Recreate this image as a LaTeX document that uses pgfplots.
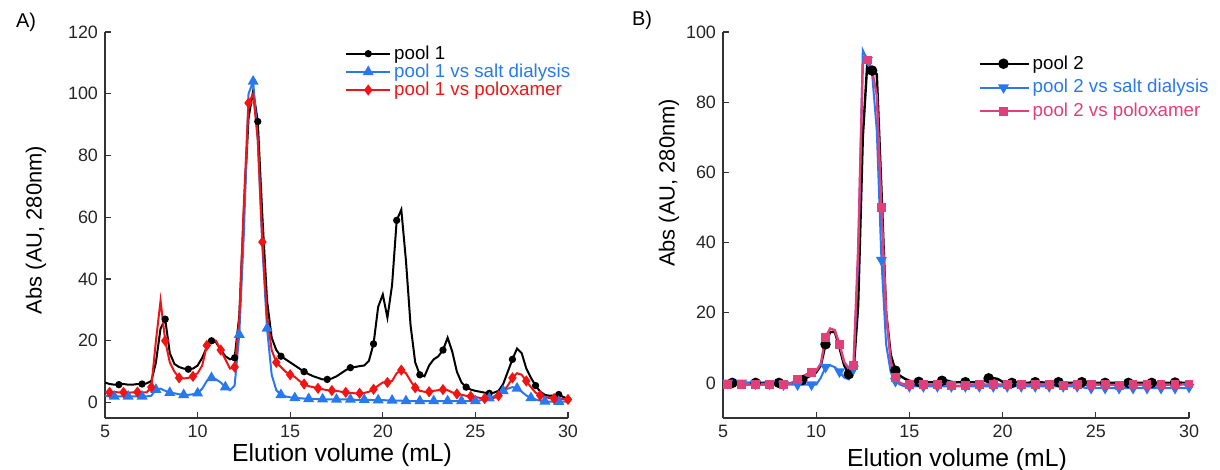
\documentclass[border=0pt]{standalone}
\usepackage{fontspec}
\setmainfont{Liberation Sans}
\usepackage{pgfplots}
\usepackage{pgfplotstable}
\pgfplotsset{compat=1.18}
\definecolor{cblue}{RGB}{40,120,240}
\definecolor{cred}{RGB}{240,20,20}
\definecolor{cpink}{RGB}{224,64,122}
\pgfplotstableread{
x a1 a2 a3 b1 b2 b3
5.00 6.5 2.2 3.5 0 0 -0.5
5.25 6.0 2.0 3.3 0 0 -0.5
5.50 5.8 2.0 3.4 0 0 -0.5
5.75 5.8 2.0 3.3 0 0 -0.5
6.00 6.0 2.0 3.3 0 0 -0.5
6.25 5.8 2.0 3.2 0 0 -0.5
6.50 5.8 2.0 3.3 0 -0.1 -0.5
6.75 6.0 2.0 3.4 0 -0.2 -0.5
7.00 6.0 2.0 3.3 0 -0.2 -0.5
7.25 6.2 2.0 3.3 0 -0.2 -0.5
7.50 7.0 2.2 5.0 0 -0.3 -0.5
7.75 13 4.2 20 0 -0.3 -0.5
8.00 24 4.5 33 0 -0.5 -0.5
8.25 27 3.8 20 -0.3 -0.5 -0.5
8.50 16 3.2 13 -0.2 -0.5 -0.3
8.75 12.5 3.0 10 0 -0.5 0.2
9.00 11.5 2.7 8 0.3 -0.5 1.0
9.25 11 2.5 7.8 0.8 -0.5 1.8
9.50 10.8 2.5 8 1.5 -0.5 2.5
9.75 11 2.7 8.5 2.2 -0.5 3.0
10.00 12 3.0 9.5 3.0 -0.5 3.5
10.25 14.5 4.5 12 5.0 1.5 5.5
10.50 18 7 18.5 11 4.5 13
10.75 20 8 20.5 14.5 5 15.5
11.00 19.5 7.5 20 14.5 4.5 15
11.25 17 6.5 17 10 3.2 11
11.50 15 5 14 5 1.5 6
11.75 14 4 11 2.5 1.0 4
12.00 14.5 5.5 11.5 3 4 5
12.25 28 22 27 22 35 38
12.50 62 55 65 70 94.8 91
12.75 92 100 97 92 92 92
13.00 101 104 100 89 88 89
13.25 91 85 85 88 72 82
13.50 60 50 52 55 35 50
13.75 33 24 28 20 11 20
14.00 21 9 17 8 3 6
14.25 17 4 13 3.5 0.5 1.5
14.50 15 2.5 11.5 2 -0.5 0
14.75 14 2 10 1.2 -1 -0.5
15.00 13 1.7 9 0.6 -1 -0.5
15.25 12 1.5 8.3 0.4 -1 -0.5
15.50 11 1.4 7 0.3 -1 -0.5
15.75 10 1.3 6 0.3 -1 -0.5
16.00 9.2 1.2 5.3 0.2 -1 -0.5
16.25 8.5 1.2 5 0.2 -1 -0.5
16.50 8 1.1 4.6 0.3 -1 -0.5
16.75 7.5 1.1 4.3 0.6 -1 -0.5
17.00 7.5 1.0 4 0.7 -1 -0.6
17.25 7.8 1.0 3.9 0.3 -1 -0.8
17.50 8.5 1.0 3.8 0.2 -1 -0.8
17.75 9.5 1.0 3.5 0.2 -1 -0.8
18.00 10.5 1.0 3.3 0.2 -1 -0.8
18.25 11.3 1.0 3.1 0.2 -1 -0.6
18.50 11.5 0.9 3 0.2 -1 -0.5
18.75 11.8 0.9 3 0.3 -1 -0.5
19.00 12 0.9 3.1 0.5 -1 -0.5
19.25 13.5 0.9 3.5 1.3 -1 -0.5
19.50 19 0.8 4.3 1.4 -1 -0.5
19.75 31 0.8 5.5 1.1 -1 -0.5
20.00 35 0.8 6.5 0.3 -1 -0.5
20.25 27.5 0.7 6.5 -0.3 -1 -0.5
20.50 38 0.7 7 0 -1 -0.5
20.75 59 0.6 9.5 0 -1 -0.5
21.00 62.5 0.6 10.5 0 -1 -0.5
21.25 46 0.5 9.5 0 -1 -0.5
21.50 25 0.5 7 0.1 -1 -0.5
21.75 13 0.5 4.8 0.2 -1 -0.5
22.00 9 0.5 3.8 0.2 -1 -0.5
22.25 8.5 0.5 3.5 0.1 -1 -0.5
22.50 12 0.5 3.5 0 -1 -0.5
22.75 14 0.5 3.8 0 -1 -0.6
23.00 15 0.5 4 0.2 -1 -0.8
23.25 17 0.5 4.2 0.2 -1 -0.8
23.50 21 0.5 4 0 -1 -0.6
23.75 16.5 0.5 3.3 0 -1 -0.5
24.00 10 0.5 2.8 0.1 -1 -0.5
24.25 6.5 0.5 2.5 0.2 -1.2 -0.5
24.50 5 0.5 2.2 0.1 -1.5 -0.5
24.75 4.2 0.5 2 0 -1.5 -0.5
25.00 3.8 0.5 1.8 0 -1.5 -0.5
25.25 3.5 0.7 1.5 0 -1.5 -0.5
25.50 3.2 1.0 1.3 0 -1.5 -0.5
25.75 3 1.4 1.2 0 -1.5 -0.5
26.00 3.2 2.0 1.5 0 -1.5 -0.6
26.25 3.8 2.8 2.2 0 -1.5 -0.8
26.50 6 3.8 3.5 0 -1.5 -0.6
26.75 10 4.5 5.5 0 -1.5 -0.5
27.00 14 5.0 8 0 -1.5 -0.5
27.25 17.5 4.6 9.5 0 -1.5 -0.5
27.50 16 3.5 9 0 -1.5 -0.5
27.75 11 2.3 7 0 -1.5 -0.5
28.00 8 1.5 5 0 -1.5 -0.5
28.25 5.5 1.0 3.2 0 -1.5 -0.5
28.50 3.5 0.6 2.3 0 -1.5 -0.5
28.75 2.5 0.4 1.8 0 -1.5 -0.5
29.00 2.2 0.3 1.5 0 -1.5 -0.5
29.25 2.3 0.3 1.3 0.1 -1.5 -0.5
29.50 2.6 0.3 1.2 0.1 -1.5 -0.5
29.75 1.8 0.3 1.1 0 -1.5 -0.4
30.00 1.2 0.3 1.0 0 -1.2 -0.3
}\chrom
\begin{document}
\begin{tikzpicture}
\useasboundingbox (0,0) rectangle (610bp,235bp);
\pgfplotsset{
  chrom/.style={
    scale only axis,
    axis x line=bottom, axis y line=left,
    axis line style={-, line width=0.7bp, black!80},
    tick style={line width=0.6bp, black!80},
    tick align=inside, major tick length=3bp,
    xmin=5, xmax=30, xtick={5,10,...,30},
    /pgf/number format/assume math mode=true,
    ticklabel style={font=\fontsize{9}{10}\selectfont, text=black!85},
    xlabel={Elution volume (mL)},
    ylabel={Abs (AU, 280nm)},
    legend cell align=left,
    every axis plot/.append style={line width=1bp},
  },
}
\node[font=\fontsize{10}{12}\selectfont] at (13bp,224bp) {A)};
\node[font=\fontsize{10}{12}\selectfont] at (321bp,225bp) {B)};
% ---------------- Panel A
\begin{axis}[chrom, at={(52.5bp,26bp)}, anchor=south west,
  width=231.5bp, height=193bp,
  ymin=-5, ymax=120, ytick={0,20,...,120},
  every axis x label/.style={at={(axis description cs:0.512,-0.096)},anchor=center,font=\fontsize{12.4}{14}\selectfont},
  every axis y label/.style={at={(axis description cs:-0.149,0.487)},rotate=90,anchor=center,font=\fontsize{11}{13}\selectfont},
  legend style={draw=none, fill=none, at={(axis description cs:0.518,0.974)}, anchor=north west,
    font=\fontsize{9.4}{10}\selectfont, row sep=-2.2bp, inner sep=0pt,
    nodes={inner sep=1.5bp}},
  legend image code/.code={\draw[mark repeat=2,mark phase=2] plot coordinates {(0bp,0bp) (11bp,0bp) (22bp,0bp)};},
]
\addplot[black, mark=*, mark size=1.3bp, mark repeat=5, mark phase=4] table[x=x,y=a1] {\chrom};
\addlegendentry{\textcolor{black}{pool 1}}
\addplot[cblue, mark=triangle*, mark size=2.2bp, mark repeat=3, mark phase=3] table[x=x,y=a2] {\chrom};
\addlegendentry{\textcolor{cblue}{pool 1 vs salt dialysis}}
\addplot[cred, mark=diamond*, mark size=2bp, mark repeat=3, mark phase=2] table[x=x,y=a3] {\chrom};
\addlegendentry{\textcolor{cred}{pool 1 vs poloxamer}}
\end{axis}
% ---------------- Panel B
\begin{axis}[chrom, at={(361.5bp,26bp)}, anchor=south west,
  width=233bp, height=193bp,
  ymin=-10, ymax=100, ytick={0,20,...,100},
  every axis x label/.style={at={(axis description cs:0.502,-0.109)},anchor=center,font=\fontsize{12.4}{14}\selectfont},
  every axis y label/.style={at={(axis description cs:-0.116,0.609)},rotate=90,anchor=center,font=\fontsize{11}{13}\selectfont},
  legend style={draw=none, fill=none, at={(axis description cs:0.547,0.948)}, anchor=north west,
    font=\fontsize{9.4}{10}\selectfont, row sep=0.6bp, inner sep=0pt,
    nodes={inner sep=1.5bp}},
  legend image code/.code={\draw[mark repeat=2,mark phase=2] plot coordinates {(0bp,0bp) (12bp,0bp) (24.5bp,0bp)};},
]
\addplot[black, mark=*, mark size=2bp, line width=1.2bp, mark repeat=5, mark phase=3] table[x=x,y=b1] {\chrom};
\addlegendentry{\textcolor{black}{pool 2}}
\addplot[cblue, mark=triangle*, mark options={rotate=180}, mark size=2.2bp, mark repeat=3, mark phase=2] table[x=x,y=b2] {\chrom};
\addlegendentry{\textcolor{cblue}{pool 2 vs salt dialysis}}
\addplot[cpink, mark=square*, mark size=1.6bp, line width=1.2bp, mark repeat=3, mark phase=2] table[x=x,y=b3] {\chrom};
\addlegendentry{\textcolor{cpink}{pool 2 vs poloxamer}}
\end{axis}
\end{tikzpicture}
\end{document}
